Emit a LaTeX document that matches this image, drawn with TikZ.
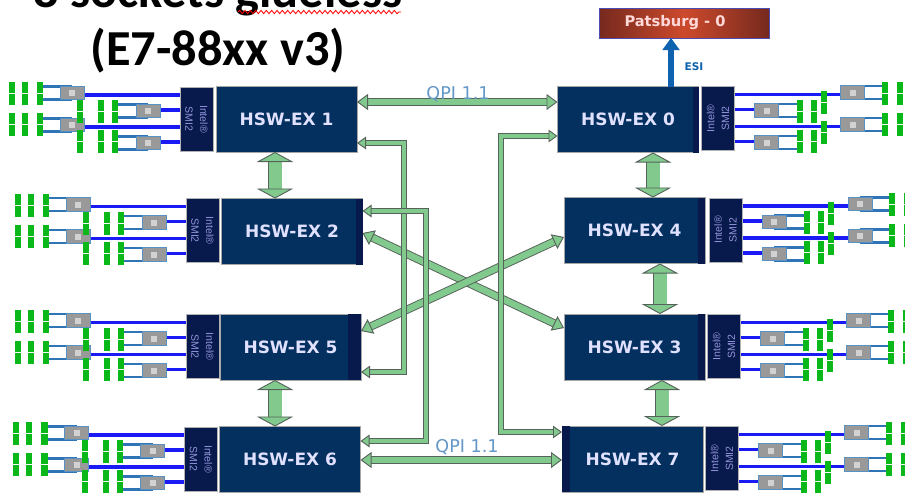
\documentclass[tikz,border=0pt]{standalone}
\usepackage{fontspec}
\setmainfont{DejaVu Sans}
\newfontfamily\titlefont{Carlito}
\newfontfamily\smifont{Liberation Sans}
\usetikzlibrary{arrows.meta,backgrounds,calc,decorations.pathmorphing}
\definecolor{hswblue}{HTML}{03305F}
\definecolor{smiblue}{HTML}{081A4C}
\definecolor{qpigreen}{HTML}{82C98E}
\definecolor{qpiedge}{HTML}{56635A}
\definecolor{dimmgreen}{HTML}{0BB81A}
\definecolor{memblue}{HTML}{1A1AF5}
\definecolor{bufblue}{HTML}{2F75B5}
\definecolor{esiblue}{HTML}{0F63AE}
\definecolor{patedge}{HTML}{76291E}
\definecolor{patmid}{HTML}{CC4A2C}
\tikzset{
  hswbox/.style={draw=gray!70,line width=.6pt,fill=hswblue,text=white!88!blue,inner sep=0,outer sep=0,
    minimum width=4.23cm,minimum height=1.98cm,font=\fontsize{14.5}{15}\selectfont\bfseries},
  smibox/.style={draw=gray!60,line width=.4pt,fill=smiblue,inner sep=0,outer sep=0,minimum width=.99cm,minimum height=1.92cm},
  smitext/.style={text=white!60!blue!70!gray,align=center,inner sep=0,font=\fontsize{9}{12.5}\selectfont\smifont},
  smileft/.style={smibox,label={[smitext,rotate=-90]center:Intel®\\SMI2}},
  smiright/.style={smibox,label={[smitext,rotate=90]center:Intel®\\SMI2}},
  membuf/.style={draw=bufblue!80,line width=.8pt,fill=gray!80,inner sep=0,minimum width=.72cm,minimum height=.4cm,
    path picture={\fill[gray!35] (path picture bounding box.center) ++(-.09cm,-.09cm) rectangle ++(.18cm,.18cm);}},
  memlink/.style={draw=memblue,line width=2.7pt},
  buflink/.style={draw=bufblue,line width=1.8pt},
  dimm/.style={fill=dimmgreen},
  qpilink/.style={double=qpigreen,draw=qpiedge,double distance=.19cm,line width=.8pt,
    {Triangle[length=.33cm,width=.48cm,fill=qpigreen,color=qpiedge,line width=.8pt]}-{Triangle[length=.33cm,width=.48cm,fill=qpigreen,color=qpiedge,line width=.8pt]}},
  qpithin/.style={double=qpigreen,draw=qpiedge,double distance=.13cm,line width=.8pt,
    {Triangle[length=.27cm,width=.38cm,fill=qpigreen,color=qpiedge,line width=.8pt]}-{Triangle[length=.27cm,width=.38cm,fill=qpigreen,color=qpiedge,line width=.8pt]}},
  qpifat/.style={double=qpigreen,draw=qpiedge,double distance=.39cm,line width=.8pt,
    {Triangle[length=.3cm,width=1.1cm,fill=qpigreen,color=qpiedge,line width=.8pt]}-{Triangle[length=.3cm,width=1.1cm,fill=qpigreen,color=qpiedge,line width=.8pt]}},
  qpitext/.style={text=bufblue!75!white,inner sep=0,font=\fontsize{15}{16}\selectfont},
}
% #1 smi node, #2 its outer side, #3 mirror, #4 extra far offset, #5 third near column, #6 its y offset
\newcommand{\memset}[6]{
\begin{scope}[shift={(#1.#2)},xscale=#3]
\foreach \m/\bx/\by/\ly in {far1/{-108-#4}/-26/-24,far2/{-108-#4}/6/8,near1/-32/-8/-9,near2/-32/24/23}{
  \node[membuf] (#1\m) at (\bx,\by) {};
  \begin{pgfonlayer}{background}
  \draw[memlink] (#1\m |- 0,\ly) -- (0,\ly);
  \draw[buflink] ($(#1\m)+(0,-6.5)$) -- +(-32,0);
  \draw[buflink] ($(#1\m)+(0,6.5)$) -- +(-32,0);
  \end{pgfonlayer}
}
\foreach \c in {140,155,168}{
  \foreach \t in {-37,-6}{
    \fill[dimm] (-\c-#4-3,\t) rectangle (-\c-#4+3,\t+11);
    \fill[dimm] (-\c-#4-3,\t+12) rectangle (-\c-#4+3,\t+23);
  }
}
\foreach \c/\s in {65/0,79/0,#5/#6}{
  \foreach \t in {-19,11}{
    \fill[dimm] (-\c-3,\t+\s) rectangle (-\c+3,\t+\s+11);
    \fill[dimm] (-\c-3,\t+\s+12) rectangle (-\c+3,\t+\s+23);
  }
}
\end{scope}
}
\begin{document}
\begin{tikzpicture}[x=.03cm,y=-.03cm]
\useasboundingbox (0,0) rectangle (905,492);
\clip (0,0) rectangle (905,492);

\node[anchor=base,inner sep=0,font=\fontsize{43}{48}\selectfont\titlefont\bfseries] (title1) at (218,7) {8 sockets glueless};
\node[anchor=base,inner sep=0,font=\fontsize{43}{48}\selectfont\titlefont\bfseries] (title2) at (218,65) {(E7-88xx v3)};
\draw[red,line width=.7pt,decorate,decoration={snake,segment length=.16cm,amplitude=.05cm}] (238,12) -- (401,12);

% sockets
\node[hswbox] (ex1) at (286.5,119) {HSW-EX 1};
\node[hswbox] (ex2) at (292,231.5) {HSW-EX 2};
\node[hswbox] (ex5) at (290.5,347) {HSW-EX 5};
\node[hswbox] (ex6) at (290,459.5) {HSW-EX 6};
\node[hswbox] (ex0) at (628,119.5) {HSW-EX 0};
\node[hswbox] (ex4) at (634.5,230.5) {HSW-EX 4};
\node[hswbox] (ex3) at (634.5,347) {HSW-EX 3};
\node[hswbox] (ex7) at (632.5,459) {HSW-EX 7};
\fill[smiblue] (ex5.north east) rectangle ($(ex5.south east)+(-13,0)$);
\fill[smiblue] (ex2.north east) rectangle ($(ex2.south east)+(-7,0)$);
\fill[smiblue] (ex0.north east) rectangle ($(ex0.south east)+(-6,0)$);
\fill[smiblue] (ex4.north east) rectangle ($(ex4.south east)+(-7,0)$);
\fill[smiblue] (ex3.north east) rectangle ($(ex3.south east)+(-7,0)$);
\fill[smiblue] (ex7.north west) rectangle ($(ex7.south west)+(8,0)$);

\node[smileft] (smi1) at (196.5,119) {};
\node[smileft] (smi2) at (202.5,230.5) {};
\node[smileft] (smi5) at (202.5,346.5) {};
\node[smileft] (smi6) at (201,459) {};
\node[smiright] (smi0) at (718,118.5) {};
\node[smiright] (smi4) at (725.5,230) {};
\node[smiright] (smi3) at (724,346.5) {};
\node[smiright] (smi7) at (722,458.5) {};

\memset{smi1}{west}{1}{0}{100}{0}
\memset{smi2}{west}{1}{0}{100}{0}
\memset{smi5}{west}{1}{0}{100}{0}
\memset{smi6}{west}{1}{0}{100}{0}
\memset{smi0}{east}{-1}{10}{89}{-9}
\memset{smi4}{east}{-1}{10}{89}{-9}
\memset{smi3}{east}{-1}{10}{89}{-9}
\memset{smi7}{east}{-1}{10}{89}{-9}

% chipset
\node[draw=blue!40!gray,line width=.8pt,left color=patedge,right color=patedge,middle color=patmid,
  minimum width=5.1cm,minimum height=.9cm,inner sep=0,outer sep=0,text=white!85!red,font=\fontsize{12.5}{13}\selectfont\bfseries] (pats) at (684,23) {Patsburg - 0\hspace*{.54cm}};
\draw[-{Triangle[length=.36cm,width=.5cm]},esiblue,line width=4.8pt] (ex0.north -| 671,0) -- (pats.south -| 671,0);
\node[text=esiblue,inner sep=0,font=\fontsize{9}{10}\selectfont\bfseries] (esi) at (694,67) {ESI};

% links
\draw[qpifat] (ex1.south -| 275,0) -- (ex2.north -| 275,0);
\draw[qpifat] (ex5.south -| 275,0) -- (ex6.north -| 275,0);
\draw[qpifat] (ex0.south -| 653,0) -- (ex4.north -| 653,0);
\draw[qpifat] (ex4.south -| 660,0) -- (ex3.north -| 660,0);
\draw[qpifat] (ex3.south -| 662,0) -- (ex7.north -| 662,0);
\draw[qpilink] (ex1.east |- 0,102) -- (ex0.west |- 0,102);
\draw[qpilink] (ex6.east |- 0,460) -- (ex7.west |- 0,460);
\draw[qpilink] (ex2.east |- 0,233) -- (ex3.west |- 0,328);
\draw[qpilink] (ex5.east |- 0,331) -- (ex4.west |- 0,237);
\draw[qpithin] (ex1.east |- 0,143) -| (404,372) -- (ex5.east |- 0,372);
\draw[qpithin] (ex2.east |- 0,211) -| (426,441) -- (ex6.east |- 0,441);
\draw[qpithin] (ex0.west |- 0,136) -| (501,432) -- (ex7.west |- 0,432);
\node[qpitext] (qpitop) at (458,94) {QPI 1.1};
\node[qpitext] (qpibot) at (467,447) {QPI 1.1};
\end{tikzpicture}
\end{document}
